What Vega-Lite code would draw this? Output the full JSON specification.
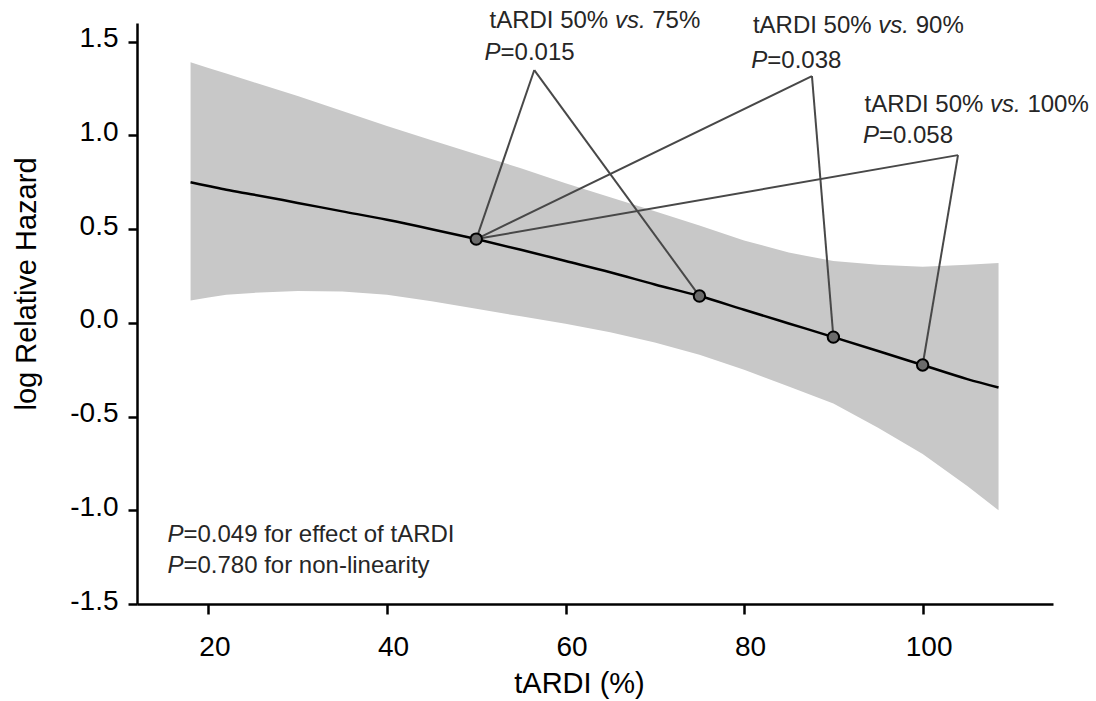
{
  "$schema": "https://vega.github.io/schema/vega-lite/v6.json",
  "width": 916,
  "height": 581,
  "autosize": {"type": "none"},
  "padding": {"left": 137, "top": 23, "right": 43, "bottom": 97},
  "background": "white",
  "config": {"view": {"stroke": null}, "font": "Liberation Sans"},
  "datasets": {
    "curve": [
      {"x": 18, "fit": 0.75, "lo": 0.12, "hi": 1.39},
      {"x": 20, "fit": 0.73, "lo": 0.135, "hi": 1.36},
      {"x": 22, "fit": 0.71, "lo": 0.15, "hi": 1.33},
      {"x": 25, "fit": 0.685, "lo": 0.16, "hi": 1.285},
      {"x": 30, "fit": 0.64, "lo": 0.17, "hi": 1.21},
      {"x": 35, "fit": 0.595, "lo": 0.168, "hi": 1.13},
      {"x": 40, "fit": 0.55, "lo": 0.15, "hi": 1.05},
      {"x": 45, "fit": 0.5, "lo": 0.115, "hi": 0.975},
      {"x": 50, "fit": 0.447, "lo": 0.075, "hi": 0.9},
      {"x": 55, "fit": 0.39, "lo": 0.035, "hi": 0.825},
      {"x": 60, "fit": 0.33, "lo": -0.005, "hi": 0.745},
      {"x": 65, "fit": 0.27, "lo": -0.05, "hi": 0.67},
      {"x": 70, "fit": 0.205, "lo": -0.105, "hi": 0.595},
      {"x": 75, "fit": 0.143, "lo": -0.17, "hi": 0.52},
      {"x": 80, "fit": 0.07, "lo": -0.25, "hi": 0.44},
      {"x": 85, "fit": -0.003, "lo": -0.34, "hi": 0.375},
      {"x": 90, "fit": -0.076, "lo": -0.43, "hi": 0.33},
      {"x": 95, "fit": -0.15, "lo": -0.56, "hi": 0.31},
      {"x": 100, "fit": -0.225, "lo": -0.7, "hi": 0.3},
      {"x": 105, "fit": -0.3, "lo": -0.87, "hi": 0.31},
      {"x": 108.5, "fit": -0.345, "lo": -1.0, "hi": 0.32}
    ],
    "points": [
      {"x": 50, "y": 0.447},
      {"x": 75, "y": 0.143},
      {"x": 90, "y": -0.076},
      {"x": 100, "y": -0.225}
    ],
    "links": [
      {"ax": 56.5, "ay": 1.349, "px": 50, "py": 0.447},
      {"ax": 56.5, "ay": 1.349, "px": 75, "py": 0.143},
      {"ax": 87.6, "ay": 1.317, "px": 50, "py": 0.447},
      {"ax": 87.6, "ay": 1.317, "px": 90, "py": -0.076},
      {"ax": 103.96, "ay": 0.895, "px": 50, "py": 0.447},
      {"ax": 103.96, "ay": 0.895, "px": 100, "py": -0.225}
    ],
    "normal": [
      {"x": 51.48, "y": 1.5715, "text": "tARDI 50%"},
      {"x": 69.71, "y": 1.5715, "text": "75%"},
      {"x": 52.72, "y": 1.4023, "text": "=0.015"},
      {"x": 80.99, "y": 1.5448, "text": "tARDI 50%"},
      {"x": 99.22, "y": 1.5448, "text": "90%"},
      {"x": 82.6, "y": 1.358, "text": "=0.038"},
      {"x": 93.5, "y": 1.1265, "text": "tARDI 50%"},
      {"x": 111.73, "y": 1.1265, "text": "100%"},
      {"x": 95.1, "y": 0.9578, "text": "=0.058"},
      {"x": 17.2, "y": -1.168, "text": "=0.049 for effect of tARDI"},
      {"x": 17.2, "y": -1.3335, "text": "=0.780 for non-linearity"}
    ],
    "italic": [
      {"x": 65.53, "y": 1.5715, "text": "vs."},
      {"x": 50.92, "y": 1.4023, "text": "P"},
      {"x": 95.04, "y": 1.5448, "text": "vs."},
      {"x": 80.81, "y": 1.358, "text": "P"},
      {"x": 107.55, "y": 1.1265, "text": "vs."},
      {"x": 93.31, "y": 0.9578, "text": "P"},
      {"x": 15.41, "y": -1.168, "text": "P"},
      {"x": 15.41, "y": -1.3335, "text": "P"}
    ]
  },
  "layer": [
    {
      "data": {"name": "curve"},
      "mark": {"type": "area", "color": "#c8c8c8", "opacity": 1},
      "encoding": {
        "x": {
          "field": "x", "type": "quantitative", "title": "tARDI (%)",
          "scale": {"domain": [12, 114.6], "nice": false, "zero": false},
          "axis": {
            "values": [20, 40, 60, 80, 100],
            "grid": false,
            "domainColor": "black", "domainWidth": 2.5,
            "tickColor": "black", "tickWidth": 2.5, "tickSize": 10,
            "labelFontSize": 28, "labelColor": "black", "labelPadding": 19, "labelOffset": 6,
            "labelFont": "Liberation Sans",
            "titleFont": "Liberation Sans", "titleFontSize": 29, "titleFontWeight": "normal", "titleColor": "black",
            "titleX": 442, "titleY": 88, "titleBaseline": "alphabetic", "titleAlign": "center"
          }
        },
        "y": {
          "field": "lo", "type": "quantitative", "title": "log Relative Hazard",
          "scale": {"domain": [-1.5, 1.6], "nice": false, "zero": false},
          "axis": {
            "values": [-1.5, -1.0, -0.5, 0.0, 0.5, 1.0, 1.5],
            "labelExpr": "replace(format(datum.value, '.1f'), '\u2212', '-')",
            "grid": false,
            "domainColor": "black", "domainWidth": 2.5,
            "tickColor": "black", "tickWidth": 2.5, "tickSize": 9,
            "labelFontSize": 28, "labelColor": "black", "labelPadding": 10, "labelOffset": -3,
            "labelFont": "Liberation Sans",
            "titleFont": "Liberation Sans", "titleFontSize": 29, "titleFontWeight": "normal", "titleColor": "black",
            "titleX": -102, "titleY": 260.5, "titleAngle": -90, "titleBaseline": "alphabetic", "titleAlign": "center"
          }
        },
        "y2": {"field": "hi"}
      }
    },
    {
      "data": {"name": "curve"},
      "mark": {"type": "line", "color": "black", "strokeWidth": 2.5, "interpolate": "monotone"},
      "encoding": {
        "x": {"field": "x", "type": "quantitative", "title": "tARDI (%)"},
        "y": {"field": "fit", "type": "quantitative", "title": "log Relative Hazard"}
      }
    },
    {
      "data": {"name": "links"},
      "mark": {"type": "rule", "color": "#484848", "strokeWidth": 2},
      "encoding": {
        "x": {"field": "ax", "type": "quantitative", "title": "tARDI (%)"},
        "y": {"field": "ay", "type": "quantitative", "title": "log Relative Hazard"},
        "x2": {"field": "px"},
        "y2": {"field": "py"}
      }
    },
    {
      "data": {"name": "points"},
      "mark": {"type": "point", "shape": "circle", "filled": true, "fill": "#6b6b6b", "stroke": "black", "strokeWidth": 2, "size": 130, "opacity": 1},
      "encoding": {
        "x": {"field": "x", "type": "quantitative", "title": "tARDI (%)"},
        "y": {"field": "y", "type": "quantitative", "title": "log Relative Hazard"}
      }
    },
    {
      "data": {"name": "normal"},
      "mark": {"type": "text", "align": "left", "baseline": "alphabetic", "fontSize": 24, "font": "Liberation Sans", "color": "#262626"},
      "encoding": {
        "x": {"field": "x", "type": "quantitative", "title": "tARDI (%)"},
        "y": {"field": "y", "type": "quantitative", "title": "log Relative Hazard"},
        "text": {"field": "text"}
      }
    },
    {
      "data": {"name": "italic"},
      "mark": {"type": "text", "align": "left", "baseline": "alphabetic", "fontSize": 24, "font": "Liberation Sans", "fontStyle": "italic", "color": "#262626"},
      "encoding": {
        "x": {"field": "x", "type": "quantitative", "title": "tARDI (%)"},
        "y": {"field": "y", "type": "quantitative", "title": "log Relative Hazard"},
        "text": {"field": "text"}
      }
    }
  ]
}
